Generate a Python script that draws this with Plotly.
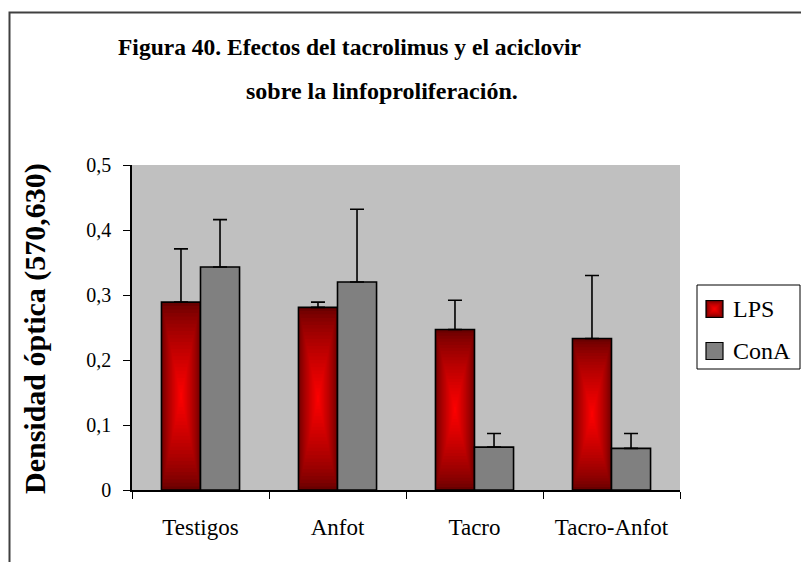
import plotly.graph_objects as go

# Data
categories = ["Testigos", "Anfot", "Tacro", "Tacro-Anfot"]
lps_values = [0.289, 0.281, 0.247, 0.233]
lps_errors = [0.082, 0.008, 0.045, 0.097]
cona_values = [0.343, 0.320, 0.066, 0.064]
cona_errors = [0.073, 0.112, 0.021, 0.023]
series_names = ["LPS", "ConA"]

FONT = "Liberation Serif, Times New Roman, serif"
W, H = 801, 562
PL, PR, PT, PB = 132, 680, 165, 490  # plot area in pixels


def px_x(x):
    return (x - PL) / (PR - PL)


def px_y(y):
    return (PB - y) / (PB - PT)


def mix(c1, c2, t):
    return "rgb({},{},{})".format(*[round(a + (b - a) * t) for a, b in zip(c1, c2)])


DARK = (105, 0, 0)
BRIGHT = (255, 0, 0)
BAR_W = 0.285
N_RINGS = 26

fig = go.Figure()

# LPS bars: nested rectangles from the dark rim to the bright centre
for k in range(N_RINGS, 0, -1):
    s = k / N_RINGS
    t = (1 - s) ** 0.75
    fig.add_trace(go.Bar(
        x=categories,
        y=[v * s for v in lps_values],
        base=[v * (1 - s) / 2 for v in lps_values],
        width=BAR_W * s,
        offset=-BAR_W / 2 - BAR_W * s / 2,
        marker=dict(color=mix(DARK, BRIGHT, t), line=dict(width=0)),
        showlegend=False, hoverinfo="skip",
    ))

# LPS outline with error bars
fig.add_trace(go.Bar(
    x=categories, y=lps_values, name=series_names[0],
    width=BAR_W, offset=-BAR_W,
    marker=dict(color="rgba(0,0,0,0)", line=dict(color="black", width=1.6)),
    error_y=dict(type="data", symmetric=False, array=lps_errors,
                 arrayminus=[0] * len(lps_errors),
                 color="black", thickness=1.6, width=7),
    showlegend=False,
))

# ConA bars
fig.add_trace(go.Bar(
    x=categories, y=cona_values, name=series_names[1],
    width=BAR_W, offset=0,
    marker=dict(color="#808080", line=dict(color="black", width=1.6)),
    error_y=dict(type="data", symmetric=False, array=cona_errors,
                 arrayminus=[0] * len(cona_errors),
                 color="black", thickness=1.6, width=7),
    showlegend=False,
))

shapes = []
annotations = []

# Outer chart frame
shapes.append(dict(type="rect", xref="paper", yref="paper",
                   x0=px_x(9.5), x1=px_x(830), y0=px_y(12.5), y1=px_y(600),
                   line=dict(color="#404040", width=2), fillcolor="rgba(0,0,0,0)"))

# Legend box
shapes.append(dict(type="rect", xref="paper", yref="paper",
                   x0=px_x(697), x1=px_x(800), y0=px_y(285), y1=px_y(369),
                   line=dict(color="black", width=1), fillcolor="white"))

# Legend swatches
sw_x0, sw_x1 = 706, 723
lps_y, cona_y = 309, 351
n_sw = 8
for k in range(n_sw, 0, -1):
    s = k / n_sw
    half = 8.5 * s
    shapes.append(dict(type="rect", xref="paper", yref="paper",
                       x0=px_x(714.5 - half), x1=px_x(714.5 + half),
                       y0=px_y(lps_y - half), y1=px_y(lps_y + half),
                       line=dict(width=0),
                       fillcolor=mix(DARK, BRIGHT, (1 - s) ** 0.6)))
shapes.append(dict(type="rect", xref="paper", yref="paper",
                   x0=px_x(sw_x0), x1=px_x(sw_x1),
                   y0=px_y(lps_y - 8.5), y1=px_y(lps_y + 8.5),
                   line=dict(color="black", width=1.2), fillcolor="rgba(0,0,0,0)"))
shapes.append(dict(type="rect", xref="paper", yref="paper",
                   x0=px_x(sw_x0), x1=px_x(sw_x1),
                   y0=px_y(cona_y - 8.5), y1=px_y(cona_y + 8.5),
                   line=dict(color="black", width=1.2), fillcolor="#808080"))

for name, yy in zip(series_names, [lps_y, cona_y]):
    annotations.append(dict(text=name, xref="paper", yref="paper",
                            x=px_x(731), y=px_y(yy), xanchor="left", yanchor="middle",
                            showarrow=False, font=dict(family=FONT, size=24, color="black")))

# Title
annotations.append(dict(text="<b>Figura 40. Efectos del tacrolimus y el aciclovir</b>",
                        xref="paper", yref="paper", x=px_x(349), y=px_y(47),
                        xanchor="center", yanchor="middle", showarrow=False,
                        font=dict(family=FONT, size=23.5, color="black")))
annotations.append(dict(text="<b>sobre la linfoproliferación.</b>",
                        xref="paper", yref="paper", x=px_x(382), y=px_y(91),
                        xanchor="center", yanchor="middle", showarrow=False,
                        font=dict(family=FONT, size=24, color="black")))

# Y axis title
annotations.append(dict(text="<b>Densidad óptica (570,630)</b>",
                        xref="paper", yref="paper", x=px_x(35), y=px_y(329),
                        xanchor="center", yanchor="middle", textangle=-90,
                        showarrow=False, font=dict(family=FONT, size=30, color="black")))

fig.update_layout(
    width=W, height=H,
    margin=dict(l=PL, r=W - PR, t=PT, b=H - PB),
    paper_bgcolor="white", plot_bgcolor="#C0C0C0",
    barmode="overlay", showlegend=False,
    separators=",.",
    font=dict(family=FONT, color="black"),
    shapes=shapes, annotations=annotations,
)
fig.update_xaxes(
    showline=True, linecolor="black", linewidth=1.5,
    ticks="outside", tickson="boundaries", ticklen=7, tickcolor="black", tickwidth=1.2,
    tickfont=dict(family=FONT, size=23, color="black"),
    ticklabelstandoff=16, showgrid=False, zeroline=False,
)
fig.update_yaxes(
    range=[0, 0.5], dtick=0.1, tick0=0,
    showline=True, linecolor="black", linewidth=1.5,
    ticks="outside", ticklen=7, tickcolor="black", tickwidth=1.2,
    tickfont=dict(family=FONT, size=20, color="black"),
    ticklabelstandoff=8, showgrid=False, zeroline=False,
)

fig.write_html("out.html")
